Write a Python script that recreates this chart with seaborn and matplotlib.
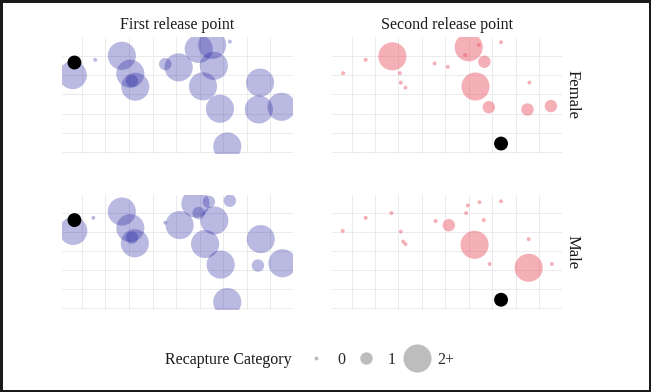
import numpy as np
import pandas as pd
import seaborn as sns
import matplotlib
matplotlib.use('Agg')
import matplotlib.pyplot as plt
from matplotlib.lines import Line2D

sns.set_style("white")
plt.rcParams['font.family'] = ['Liberation Serif', 'DejaVu Serif']

# capture sites on a grid (x, y) and recapture category, one set per panel
first_female_x = [-0.38, 0.57, 1.70, 2.06, 2.27, 2.13, 3.54, 4.11, 4.96, 5.53, 5.60, 6.28, 5.14, 5.86, 6.17, 7.56, 7.51, 8.47]
first_female_y = [4.00, 4.79, 5.00, 4.07, 3.40, 3.70, 4.57, 4.40, 5.35, 5.56, 4.48, 5.73, 3.42, 2.26, 0.31, 3.61, 2.22, 2.36]
first_female_cat = ['2+', '0', '2+', '2+', '2+', '1', '1', '2+', '2+', '2+', '2+', '0', '2+', '2+', '2+', '2+', '2+', '2+']

first_male_x = [-0.36, 0.49, 1.70, 2.06, 2.25, 2.13, 3.54, 4.15, 4.82, 5.39, 4.96, 5.62, 6.28, 5.23, 5.89, 6.17, 7.59, 7.47, 8.51]
first_male_y = [4.08, 4.77, 5.10, 4.23, 3.43, 3.73, 4.51, 4.39, 5.52, 5.61, 5.02, 4.63, 5.67, 3.39, 2.31, 0.34, 3.65, 2.26, 2.38]
first_male_cat = ['2+', '0', '2+', '2+', '2+', '1', '0', '2+', '2+', '1', '1', '2+', '1', '2+', '2+', '2+', '2+', '1', '2+']

second_female_x = [-0.36, 0.60, 1.74, 2.06, 2.10, 2.30, 3.54, 4.11, 5.00, 5.43, 4.85, 5.67, 6.38, 5.29, 5.86, 7.59, 7.51, 8.51]
second_female_y = [4.10, 4.79, 4.97, 4.10, 3.61, 3.35, 4.60, 4.43, 5.44, 5.56, 5.04, 4.69, 5.70, 3.41, 2.34, 3.61, 2.22, 2.40]
second_female_cat = ['0', '0', '2+', '0', '0', '0', '0', '0', '2+', '0', '0', '1', '0', '2+', '1', '0', '1', '1']

second_male_x = [-0.38, 0.60, 1.70, 2.10, 2.20, 2.30, 3.59, 4.15, 4.96, 5.46, 4.89, 5.64, 6.38, 5.25, 5.89, 7.56, 7.56, 8.55]
second_male_y = [4.08, 4.77, 5.02, 4.04, 3.52, 3.39, 4.60, 4.38, 5.42, 5.59, 5.02, 4.65, 5.64, 3.35, 2.34, 3.65, 2.14, 2.34]
second_male_cat = ['0', '0', '0', '0', '0', '0', '0', '1', '0', '0', '0', '0', '0', '2+', '0', '0', '2+', '0']

# release points
release_x = {'First': -0.31, 'Second': 6.38}
release_y = {'First': 4.65, 'Second': 0.46}

frames = []
for rel, sex, xs, ys, cs in [
    ('First', 'Female', first_female_x, first_female_y, first_female_cat),
    ('First', 'Male', first_male_x, first_male_y, first_male_cat),
    ('Second', 'Female', second_female_x, second_female_y, second_female_cat),
    ('Second', 'Male', second_male_x, second_male_y, second_male_cat),
]:
    frames.append(pd.DataFrame({'x': xs, 'y': ys, 'cat': cs, 'release': rel, 'sex': sex}))
df = pd.concat(frames, ignore_index=True)

size_map = {'0': 8, '1': 80, '2+': 410}
colors = {'First': '#1a1a9c', 'Second': '#e8505f'}
alphas = {'First': 0.3, 'Second': 0.45}

W, H = 651, 392
fig = plt.figure(figsize=(6.51, 3.92), dpi=100, linewidth=2.5, edgecolor='#1a1a1a')

# panel boxes in pixels: left, top, right, bottom
cols = {'First': (61.7, 293.3), 'Second': (331.7, 561.7)}
rows = {'Female': (37, 154), 'Male': (195, 310)}

for rel in ['First', 'Second']:
    for sex in ['Female', 'Male']:
        l, r = cols[rel]
        t, b = rows[sex]
        ax = fig.add_axes([l / W, 1 - b / H, (r - l) / W, (b - t) / H])
        sub = df[(df.release == rel) & (df.sex == sex)]
        sns.scatterplot(data=sub, x='x', y='y', size='cat', sizes=size_map,
                        size_order=['0', '1', '2+'], color=colors[rel],
                        alpha=alphas[rel], edgecolor='none', legend=False, ax=ax)
        sns.scatterplot(x=[release_x[rel]], y=[release_y[rel]], color='black',
                        s=100, edgecolor='none', legend=False, ax=ax)
        ax.set_xlim(-0.85, 8.97)
        ax.set_ylim(-0.08, 5.97)
        ax.set_xticks(range(9))
        ax.set_yticks(range(6))
        ax.tick_params(length=0, labelbottom=False, labelleft=False)
        ax.grid(True, color='#ebebeb', lw=0.7)
        ax.set_axisbelow(True)
        ax.set_xlabel('')
        ax.set_ylabel('')
        for s in ax.spines.values():
            s.set_visible(False)

fs = 11.5
fig.text(177 / W, 1 - 25 / H, 'First release point', ha='center', va='center', fontsize=fs, color='#1a1a1a')
fig.text(447 / W, 1 - 25 / H, 'Second release point', ha='center', va='center', fontsize=fs, color='#1a1a1a')
fig.text(573 / W, 1 - 95 / H, 'Female', rotation=270, ha='center', va='center', fontsize=12, color='#1a1a1a')
fig.text(573 / W, 1 - 252 / H, 'Male', rotation=270, ha='center', va='center', fontsize=12, color='#1a1a1a')

# legend
fig.text(165 / W, 1 - 360 / H, 'Recapture Category', ha='left', va='center', fontsize=fs, color='#1a1a1a')
handles = [Line2D([], [], ls='none', marker='o', markersize=np.sqrt(size_map[c]),
                  markerfacecolor='#bdbdbd', markeredgecolor='none') for c in ['0', '1', '2+']]
fig.legend(handles, ['0', '1', '2+'], ncol=3, loc='center left',
           bbox_to_anchor=(289 / W, 1 - 360 / H), frameon=False, fontsize=fs,
           handletextpad=0.5, columnspacing=0.55, handlelength=1.6)

fig.savefig('out.png', dpi=100, edgecolor=fig.get_edgecolor())
